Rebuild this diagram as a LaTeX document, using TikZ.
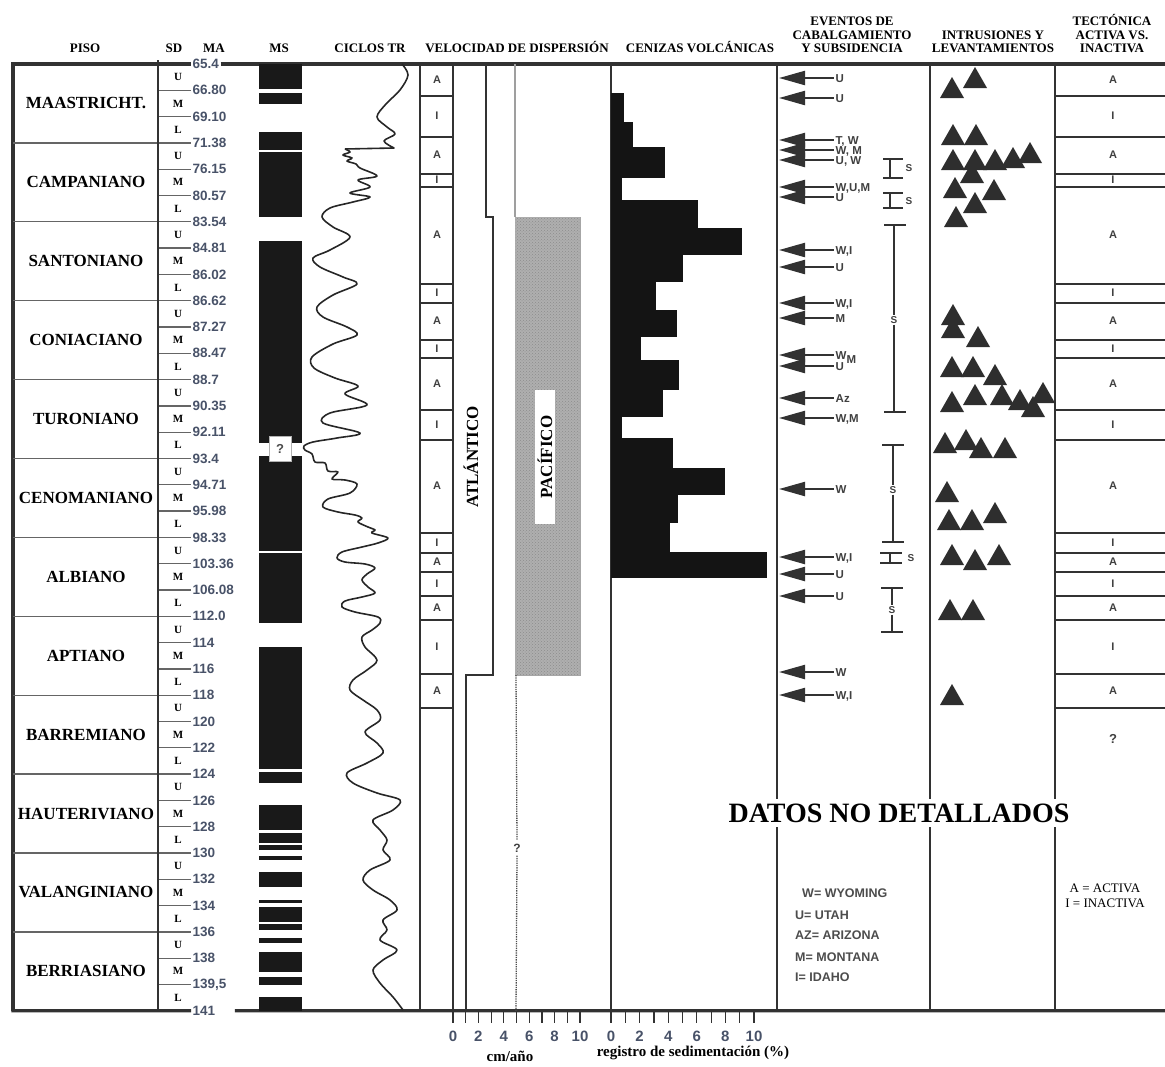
\documentclass[tikz,border=0pt]{standalone}
\usepackage{fontspec}
\setmainfont{Liberation Serif}
\newfontfamily\arialfont{Liberation Sans}
\usetikzlibrary{arrows.meta, positioning, patterns}
\definecolor{numcol}{RGB}{72,82,104}
\definecolor{linecol}{RGB}{50,50,50}
\definecolor{pacgray}{RGB}{175,175,175}

\begin{document}
\begin{tikzpicture}[x=1pt, y=-1pt,
  frame/.style={draw=linecol, line width=3.2pt},
  colline/.style={draw=linecol, line width=1.4pt},
  stageline/.style={draw=linecol!75, line width=1.3pt},
  boxline/.style={draw=linecol, line width=1.2pt},
  hdr/.style={font=\fontsize{13}{13.5}\selectfont\bfseries, align=center, anchor=south, inner sep=0pt},
  stage/.style={font=\fontsize{17}{17}\selectfont\bfseries},
  sdlet/.style={font=\fontsize{11}{11}\selectfont\bfseries},
  manum/.style={font=\arialfont\fontsize{13.5}{14}\selectfont\bfseries, text=numcol, anchor=west, inner sep=1.5pt},
  boxlbl/.style={font=\arialfont\fontsize{11}{11}\selectfont\bfseries, text=black!75},
  evlbl/.style={font=\arialfont\fontsize{11.5}{11.5}\selectfont\bfseries, text=black!75, anchor=west, inner sep=1.5pt, text height=8pt, text depth=0pt},
  evarrow/.style={draw=linecol, line width=2.2pt, {Triangle[length=26pt,width=14pt]}-},
  sbar/.style={draw=linecol, line width=1.6pt},
  slbl/.style={font=\arialfont\fontsize{10}{10}\selectfont\bfseries, text=black!75, inner sep=1pt},
  ocean/.style={font=\fontsize{17}{17}\selectfont\bfseries, rotate=90},
  legtxt/.style={font=\arialfont\fontsize{12.5}{13}\selectfont\bfseries, text=black!70, anchor=west, inner sep=0pt},
  axnum/.style={font=\arialfont\fontsize{15}{15}\selectfont\bfseries, text=numcol},
  axlbl/.style={font=\fontsize{15}{15}\selectfont\bfseries},
  trcurve/.style={draw=black!85, line width=1.6pt, line join=round},
  tri/.pic={\fill[black!82] (-12,0) -- (0,-21) -- (12,0) -- cycle;}
]
\useasboundingbox (0,0) rectangle (1165,1066);

% column titles
\node[hdr] (hpiso) at (85,53) {PISO};
\node[hdr] (hsd) at (174,53) {SD};
\node[hdr] (hma) at (214,53) {MA};
\node[hdr] (hms) at (279,53) {MS};
\node[hdr] (hcic) at (370,53) {CICLOS TR};
\node[hdr] (hvel) at (517,53) {VELOCIDAD DE DISPERSIÓN};
\node[hdr] (hcen) at (700,53) {CENIZAS VOLCÁNICAS};
\node[hdr] (hev) at (852,53) {EVENTOS DE\\CABALGAMIENTO\\Y SUBSIDENCIA};
\node[hdr] (hint) at (993,53) {INTRUSIONES Y\\LEVANTAMIENTOS};
\node[hdr] (htec) at (1112,53) {TECTÓNICA\\ACTIVA VS.\\INACTIVA};

% MA ages
\foreach \lab [count=\i from 0] in {65.4,66.80,69.10,71.38,76.15,80.57,83.54,84.81,86.02,86.62,87.27,88.47,88.7,90.35,92.11,93.4,94.71,95.98,98.33,103.36,106.08,112.0,114,116,118,120,122,124,126,128,130,132,134,136,138,{139,5},141}
  \node[manum] (ma\i) at (191,{64+26.3*\i}) {\lab};

% frame
\draw[frame] (11.4,64) -- (ma0.west);
\draw[frame] (ma0.east) -- (1165,64);
\draw[frame] (11.4,1010.8) -- (ma36.west);
\draw[frame] ([xshift=18pt]ma36.east) -- (1165,1010.8);
\draw[frame] (13,64) -- (13,1010.8);

% stages and substages
\foreach \i in {1,...,35}{
  \pgfmathtruncatemacro{\r}{mod(\i,3)}
  \ifnum\r=0
    \draw[stageline] (13,{64+26.3*\i}) -- (ma\i.west);
  \else
    \draw[stageline] (158,{64+26.3*\i}) -- (ma\i.west);
  \fi
}
\draw[colline] (158,60) -- (158,1010.8);
\foreach \nm [count=\s from 0] in {MAASTRICHT.,CAMPANIANO,SANTONIANO,CONIACIANO,TURONIANO,CENOMANIANO,ALBIANO,APTIANO,BARREMIANO,HAUTERIVIANO,VALANGINIANO,BERRIASIANO}{
  \node[stage] (st\s) at (86,{64+26.3*(3*\s+1.5)}) {\nm};
  \foreach \l [count=\j from 0] in {U,M,L}
    \node[sdlet] (sd\s\l) at (178,{64+26.3*(3*\s+\j+0.5)}) {\l};
}

% MS
\fill[black!90] (259,64) rectangle (302,1010.8);
\foreach \a/\b in {89/93,104/132,150/152,217/241,551/553,623/647,769/772,783/805,830/833,843/845,850/856,860/872,887/900,903/907,922/924,930/938,943/952,972/977,985/997}
  \fill[white] (259,\a) rectangle (302,\b);
\fill[white] (257,443) rectangle (304,456);
\node[draw=gray!60, fill=white, minimum width=22pt, minimum height=25pt, inner sep=0pt, font=\arialfont\fontsize{13}{13}\selectfont\bfseries, text=black!70] (msq) at (280,449) {?};

% ciclos TR
\draw[trcurve] plot[smooth, tension=0.55] coordinates {(402,64) (408,75) (400,90) (386,104) (377,117) (387,127) (395,134) (384,141) (394,148)}
  -- (345,149);
\draw[trcurve] plot[smooth, tension=0.55] coordinates {(345,149) (350,152) (343,155) (352,158) (347,161) (356,164) (360,168) (377,176) (358,180) (370,187) (350,193) (370,197) (353,202) (330,208) (322,217) (333,227) (350,237) (330,250) (313,258) (320,267) (343,277) (357,284) (333,295) (317,307) (323,317) (347,327) (357,335) (333,344) (312,357) (314,368) (335,378) (358,386) (345,394) (367,405) (330,413) (323,423) (360,433) (337,438) (313,442) (304,446) (305,450) (312,454) (315,462) (325,463) (328,471) (338,472) (332,479) (345,480) (357,484) (350,493) (328,499) (323,507) (338,512) (355,515) (362,518) (358,522) (368,527) (375,530) (372,533) (388,538) (378,543) (362,547) (342,552) (337,558) (345,562) (365,564) (375,568) (367,574) (362,580) (368,587) (375,593) (362,597) (345,601) (342,607) (355,612) (378,617) (380,623) (372,630) (362,637) (365,647) (377,660) (367,670) (353,680) (350,690) (363,700) (377,710) (380,720) (365,732) (377,743) (383,753) (367,763) (347,773) (353,783) (377,793) (400,800) (393,810) (373,820) (380,830) (387,840) (383,850) (390,860) (370,870) (363,880) (373,890) (390,900) (397,910) (383,920) (387,930) (380,940) (397,950) (383,960) (373,970) (380,983) (393,997) (403,1010)};

% velocidad de dispersion
\draw[colline] (420,64) -- (420,1010.8);
\draw[colline] (453,64) -- (453,1010.8);
\draw[colline] (611,64) -- (611,1010.8);
\foreach \b in {96,137,174,187,284,303,340,358,410,440,533,553,572,596,620,674,708}{
  \draw[boxline] (420,\b) -- (453,\b);
  \draw[boxline] (1055,\b) -- (1165,\b);
}
\foreach \t/\m [count=\n] in {A/80,I/116,A/155,I/180,A/235,I/293,A/321,I/349,A/384,I/425,A/486,I/543,A/562,I/584,A/608,I/647,A/691}{
  \node[boxlbl] (va\n) at (437,\m) {\t};
  \node[boxlbl] (ta\n) at (1113,\m) {\t};
}
\node[boxlbl, font=\arialfont\fontsize{13}{13}\selectfont\bfseries] (tq) at (1113,739) {?};
\draw[colline] (486,64) -- (486,217) -- (493,217) -- (493,675) -- (466,675) -- (466,1010.8);
\node[ocean] (atl) at (471,457) {ATLÁNTICO};
\draw[draw=gray!75, line width=1.3pt] (515,64) -- (515,217);
\fill[pacgray] (515,217) rectangle (580,675);
\fill[pattern=crosshatch dots, pattern color=black!45] (515,217) rectangle (580,675);
\draw[draw=gray!70, line width=1pt] (580,217) -- (580,675) -- (515,675);
\node[ocean, fill=white, inner xsep=26pt, inner ysep=2.5pt] (pac) at (545,457) {PACÍFICO};
\node[boxlbl, font=\arialfont\fontsize{12}{12}\selectfont\bfseries] (pq) at (517,848) {?};
\draw[draw=black!70, line width=1.3pt, densely dotted] (516,675) -- (pq.north);
\draw[draw=black!70, line width=1.3pt, densely dotted] (pq.south) -- (516,1010.8);

% cenizas volcanicas
\foreach \a/\b/\r in {93/122/624,122/147/633,147/178/665,178/200/622,200/228/698,228/255/742,255/282/683,282/310/656,310/337/677,337/360/641,360/390/679,390/417/663,417/438/622,438/468/673,468/495/725,495/523/678,523/552/670,552/578/767}
  \fill[black!92] (611,\a) rectangle (\r,\b);

% eventos de cabalgamiento
\draw[colline] (777,64) -- (777,1010.8);
\draw[colline] (930,64) -- (930,1010.8);
\draw[colline] (1055,64) -- (1055,1010.8);
\foreach \y/\lab [count=\k] in {78/U,98/U,140/{T, W},150/{W, M},160/{U, W},187/{W,U,M},197/U,250/{W,I},267/U,303/{W,I},318/M,355/{W\raisebox{-4pt}{M}},366/U,398/Az,418/{W,M},489/W,557/{W,I},574/U,596/U,672/W,695/{W,I}}{
  \coordinate (tip\k) at (779,\y);
  \node[evlbl] (ev\k) at (834,\y) {\lab};
  \draw[evarrow] (tip\k) -- (ev\k.west);
}
% subsidencia
\draw[sbar] (883,159) -- (903,159) (890,159) -- (890,178) (883,178) -- (903,178);
\node[slbl] (s1) at (909,168) {S};
\draw[sbar] (883,193) -- (903,193) (890,193) -- (890,208) (883,208) -- (903,208);
\node[slbl] (s2) at (909,201) {S};
\node[slbl] (s3) at (894,320) {S};
\draw[sbar] (884,225) -- (906,225) (894,225) -- (s3.north) (s3.south) -- (894,412) (884,412) -- (906,412);
\node[slbl] (s4) at (893,490) {S};
\draw[sbar] (882,445) -- (904,445) (893,445) -- (s4.north) (s4.south) -- (893,542) (882,542) -- (904,542);
\draw[sbar] (880,553) -- (902,553) (890,553) -- (890,563) (880,563) -- (902,563);
\node[slbl] (s5) at (911,558) {S};
\node[slbl] (s6) at (892,610) {S};
\draw[sbar] (881,588) -- (903,588) (892,588) -- (s6.north) (s6.south) -- (892,632) (881,632) -- (903,632);

% intrusiones
\foreach \x/\y in {952/98,975/88,953/145,976/145,953/170,975/170,995/170,1013/168,1030/163,972/183,955/198,994/200,975/213,956/227,953/325,953/338,978/347,952/377,973/377,995/385,952/412,975/405,1002/405,1020/410,1033/417,1043/403,945/453,966/450,981/458,1005/458,947/502,949/530,972/530,995/523,952/565,975/570,999/565,950/620,973/620,952/705}
  \pic at (\x,\y) {tri};

% notes
\node[fill=white, font=\fontsize{28}{28}\selectfont\bfseries, inner xsep=6pt, inner ysep=5pt] (nodet) at (899,813) {DATOS NO DETALLADOS};
\node[legtxt] (leg1) at (802,893) {W= WYOMING};
\node[legtxt] (leg2) at (795,915) {U= UTAH};
\node[legtxt] (leg3) at (795,935) {AZ= ARIZONA};
\node[legtxt] (leg4) at (795,957) {M= MONTANA};
\node[legtxt] (leg5) at (795,977) {I= IDAHO};
\node[font=\fontsize{13}{15}\selectfont, align=center] (actleg) at (1105,896) {A = ACTIVA\\I = INACTIVA};

% scales
\foreach \k in {0,...,10}{
  \draw[boxline] ({453+12.7*\k},1011) -- ++(0,12);
  \draw[boxline] ({611+14.3*\k},1011) -- ++(0,12);
}
\foreach \v [count=\k from 0] in {0,2,4,6,8,10}{
  \node[axnum] (vx\k) at ({453+25.4*\k},1036) {\v};
  \node[axnum] (cx\k) at ({611+28.6*\k},1036) {\v};
}
\node[axlbl] (vunit) at (510,1056) {cm/año};
\node[axlbl] (cunit) at (693,1053) {registro de sedimentación (\%)};
\end{tikzpicture}
\end{document}
